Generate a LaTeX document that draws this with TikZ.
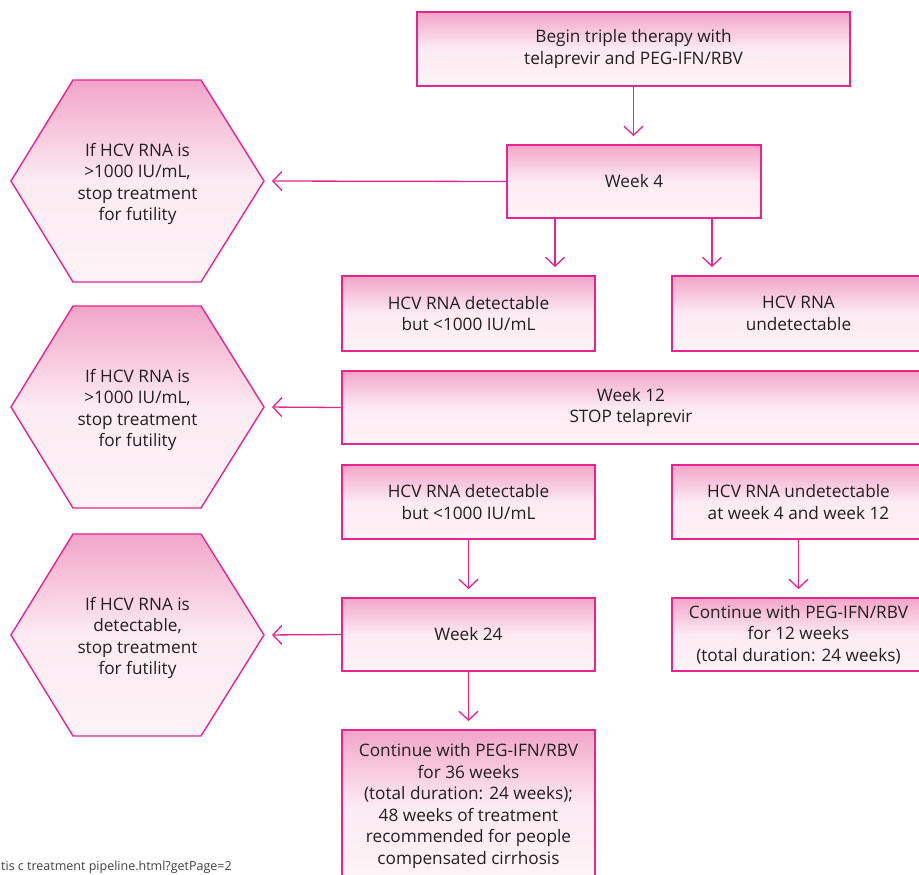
\documentclass[tikz,border=0pt]{standalone}
\usepackage{fontspec}
\setmainfont{Open Sans}
\usetikzlibrary{arrows.meta}

\definecolor{rim}{HTML}{E6268C}
\definecolor{pinktop}{HTML}{F2A5C9}
\definecolor{pinkmid}{HTML}{FCEBF2}
\definecolor{pinkbot}{HTML}{FDF3F7}
\definecolor{ink}{HTML}{231F20}

\tikzset{
  boxfill/.style={top color=pinktop, bottom color=pinkbot, middle color=pinkmid},
  stepbox/.style={rectangle, draw=rim, line width=1.8pt, boxfill, inner sep=0pt,
    align=center, text=ink, font=\fontsize{17.2}{21.5}\selectfont},
  hexbox/.style={draw=rim, line width=1.4pt, boxfill},
  hextext/.style={align=center, text=ink, font=\fontsize{17.2}{21.5}\selectfont},
  flow/.style={draw=rim, line width=1.3pt,
    -{Straight Barb[length=9pt,width=19pt,line width=1.3pt]}, shorten >=8pt},
}

\begin{document}
\begin{tikzpicture}[x=1pt,y=1pt]
  \useasboundingbox (0,0) rectangle (919,-875);
  \clip (0,0) rectangle (919,-875);
  \fill[white] (0,0) rectangle (919,-875);

  % hexagonal stop rules on the left
  \foreach \cy/\nm in {181/h1, 407/h2, 635/h3}{
    \path[hexbox] (11,-\cy) -- (73,-\cy+101) -- (201,-\cy+101) -- (264,-\cy)
      -- (201,-\cy-101) -- (73,-\cy-101) -- cycle;
    \coordinate (\nm tip) at (264,-\cy);
  }
  \node[hextext] (h1) at (137.5,-184) {If HCV RNA is\\>1000 IU/mL,\\stop treatment\\for futility};
  \node[hextext] (h2) at (137.5,-410) {If HCV RNA is\\>1000 IU/mL,\\stop treatment\\for futility};
  \node[hextext] (h3) at (137.5,-638) {If HCV RNA is\\detectable,\\stop treatment\\for futility};

  % main flow boxes
  \node[stepbox, minimum width=433pt, minimum height=74pt] (begin) at (633.5,-49)
    {Begin triple therapy with\\telaprevir and PEG-IFN/RBV};
  \node[stepbox, minimum width=254pt, minimum height=73pt] (w4) at (634,-181.5) {Week 4};
  \node[stepbox, minimum width=253pt, minimum height=75pt] (det1) at (468.5,-313.5)
    {HCV RNA detectable\\but <1000 IU/mL};
  \node[stepbox, minimum width=253pt, minimum height=75pt] (und1) at (798.5,-313.5)
    {HCV RNA\\undetectable};
  \node[stepbox, minimum width=578pt, minimum height=73pt] (w12) at (631,-407.5)
    {Week 12\\STOP telaprevir};
  \node[stepbox, minimum width=253pt, minimum height=74pt] (det2) at (468.5,-502)
    {HCV RNA detectable\\but <1000 IU/mL};
  \node[stepbox, minimum width=253pt, minimum height=74pt] (und2) at (798.5,-502)
    {HCV RNA undetectable\\at week 4 and week 12};
  \node[stepbox, minimum width=253pt, minimum height=73pt] (w24) at (468.5,-634.5) {Week 24};
  \node[stepbox, minimum width=253pt, minimum height=73pt] (cont12) at (798.5,-634.5)
    {Continue with PEG-IFN/RBV\\for 12 weeks\\(total duration: 24 weeks)};
  \node[stepbox, minimum width=253pt, minimum height=152pt] (cont36) at (468.5,-806)
    {Continue with PEG-IFN/RBV\\for 36 weeks\\(total duration: 24 weeks);\\48 weeks of treatment\\recommended for people\\compensated cirrhosis};

  % connectors
  \draw[flow] (begin.south) -- (begin.south |- w4.north);
  \draw[flow] (w4.west) -- (h1tip);
  \draw[flow] ([xshift=-79pt]w4.south) -- ([xshift=-79pt]w4.south |- det1.north);
  \draw[flow] ([xshift=78pt]w4.south) -- ([xshift=78pt]w4.south |- und1.north);
  \draw[flow] (w12.west) -- (h2tip);
  \draw[flow] (det2.south) -- (w24.north);
  \draw[flow] (und2.south) -- (cont12.north);
  \draw[flow] (w24.west) -- (h3tip);
  \draw[flow] (w24.south) -- (cont36.north);

  % source line at the foot
  \node[anchor=base west, inner sep=0pt, text=ink!85, font=\fontsize{12.5}{14}\selectfont]
    (src) at (1,-870) {tis c treatment pipeline.html?getPage=2};
\end{tikzpicture}
\end{document}
